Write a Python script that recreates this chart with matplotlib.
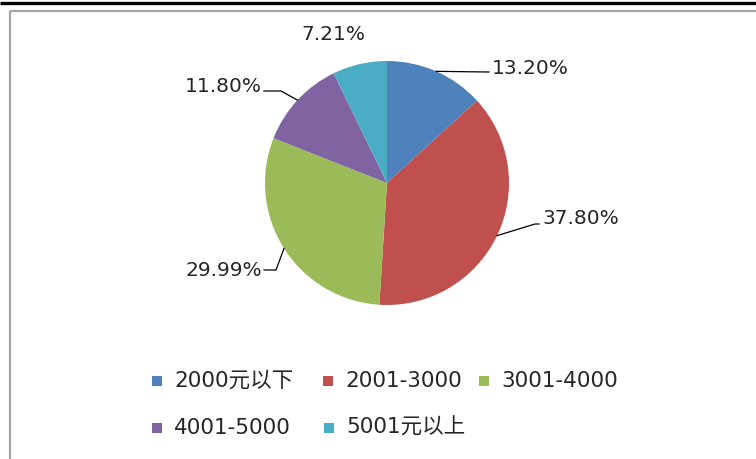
import matplotlib
matplotlib.use("Agg")
import matplotlib.pyplot as plt
from matplotlib.patches import Rectangle
import numpy as np

plt.rcParams['font.family'] = ['DejaVu Sans', 'Noto Sans CJK SC']

categories = ['2000元以下', '2001-3000', '3001-4000', '4001-5000', '5001元以上']
values = [13.20, 37.80, 29.99, 11.80, 7.21]
colors = ['#4F81BD', '#C0504D', '#9BBB59', '#8064A2', '#4BACC6']

W, H = 756, 459
fig = plt.figure(figsize=(W / 100, H / 100), dpi=100)
ax = fig.add_axes([0, 0, 1, 1])

cx, cy, r = 387, H - 183, 122
wedges, _ = ax.pie(values, colors=colors, startangle=90, counterclock=False,
                   center=(cx, cy), radius=r, frame=True)
ax.set_xlim(0, W)
ax.set_ylim(0, H)
ax.set_aspect('equal')
ax.axis('off')

# frame lines (pixel layout)
ax.plot([0, W], [H - 2.5, H - 2.5], color='black', lw=2.4, solid_capstyle='butt')
ax.plot([10, W], [H - 11, H - 11], color='#A6A6A6', lw=1.6, solid_capstyle='butt')
ax.plot([10, 10], [H - 11, 0], color='#A6A6A6', lw=1.6, solid_capstyle='butt')

# label layout: (elbow point, label anchor, ha), in pixel coordinates (y from top)
label_layout = [
    ((488, 72), (492, 68), 'left'),
    ((535, 224), (542, 219), 'left'),
    ((276, 270), (262, 271), 'right'),
    ((281, 91), (262, 86), 'right'),
    (None, (333, 34), 'center'),
]

total = sum(values)
cum = 0
for v, (elbow, anchor, ha) in zip(values, label_layout):
    mid = np.deg2rad(90 - (cum + v / 2) / total * 360)
    cum += v
    ex, ey = cx + r * np.cos(mid), cy + r * np.sin(mid)
    ax_, ay_ = anchor
    if elbow is not None:
        bx, by = elbow
        endx = ax_ - 3 if ha == 'left' else ax_ + 2
        ax.plot([ex, bx, endx], [ey, H - by, H - by], color='black', lw=0.9)
    ax.text(ax_, H - ay_, f'{v:.2f}%', ha=ha, va='center', fontsize=14.5,
            color='#262626')

# legend layout (marker left x, row centre y), pixels from top-left
legend_layout = [(152, 381), (323, 381), (479, 381), (152, 428), (324, 428)]
msz = 10
for cat, c, (lx, ly) in zip(categories, colors, legend_layout):
    ax.add_patch(Rectangle((lx, H - ly - msz / 2), msz, msz, facecolor=c,
                           edgecolor='none'))
    ax.text(lx + msz + 12, H - ly, cat, ha='left', va='center',
            fontsize=15.5, color='#262626')

fig.savefig('out.png', dpi=100, facecolor='white')
